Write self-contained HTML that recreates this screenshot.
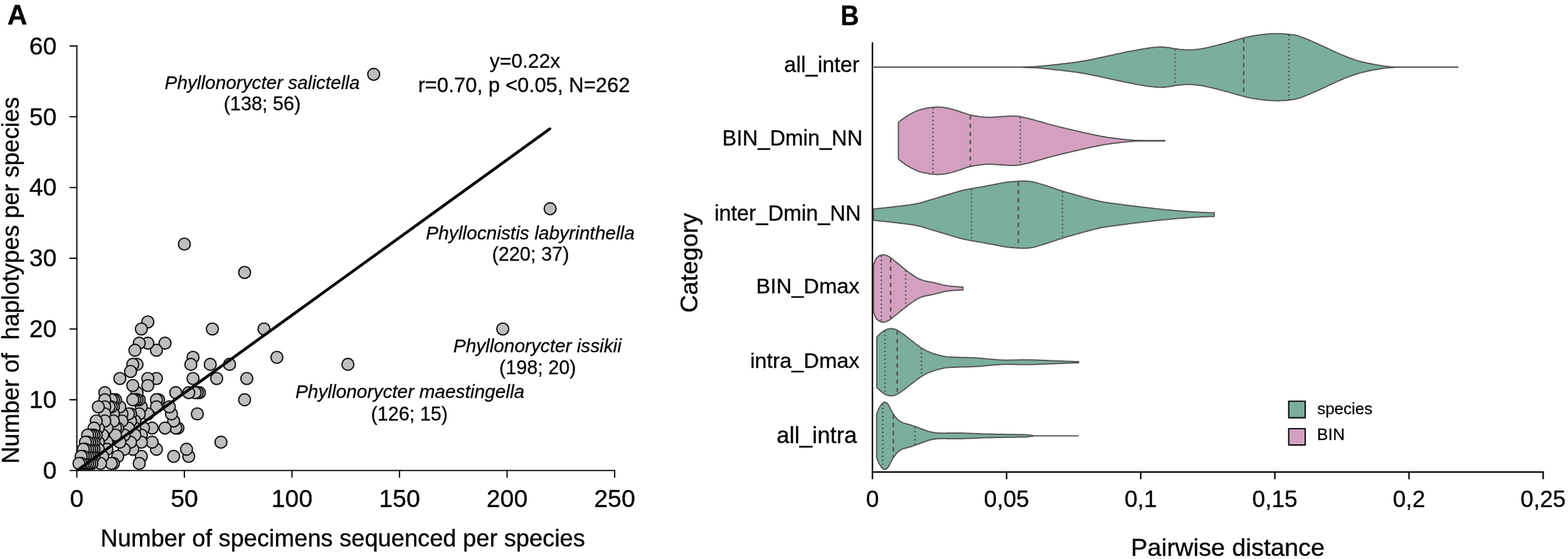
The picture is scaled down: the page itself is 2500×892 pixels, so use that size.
<!DOCTYPE html>
<html lang="en"><head><meta charset="utf-8"><title>Figure</title>
<style>
html,body{margin:0;padding:0;background:#fff}
body{width:2500px;height:892px;overflow:hidden}
svg{display:block}
text{font-family:"Liberation Sans",Arial,Helvetica,sans-serif;fill:#060606;stroke:#060606;stroke-width:0.011em}
</style></head><body>
<svg width="2500" height="892" viewBox="0 0 2500 892">
<rect width="2500" height="892" fill="#ffffff"/>

<g id="panelA">
<text transform="translate(12.90 38.80) scale(0.4388 0.4406)" x="-2.50" y="0" font-size="100" font-weight="bold">A</text>
<g stroke="#111" stroke-width="2.1" fill="none" stroke-linecap="round" stroke-linejoin="round">
<path d="M122.5 73.4 V750.8 H980.0"/>
<path d="M111.7 750.8 H122.5"/>
<path d="M111.7 637.9 H122.5"/>
<path d="M111.7 525.0 H122.5"/>
<path d="M111.7 412.1 H122.5"/>
<path d="M111.7 299.2 H122.5"/>
<path d="M111.7 186.3 H122.5"/>
<path d="M111.7 73.4 H122.5"/>
<path d="M122.5 750.8 V761.5"/>
<path d="M294.0 750.8 V761.5"/>
<path d="M465.5 750.8 V761.5"/>
<path d="M637.0 750.8 V761.5"/>
<path d="M808.5 750.8 V761.5"/>
<path d="M980.0 750.8 V761.5"/>
</g>
<text x="68.42" y="764.00" font-size="39.20" xml:space="preserve">0</text>
<text x="46.66" y="651.10" font-size="39.20" xml:space="preserve">10</text>
<text x="46.66" y="538.20" font-size="39.20" xml:space="preserve">20</text>
<text x="46.66" y="425.30" font-size="39.20" xml:space="preserve">30</text>
<text x="46.66" y="312.40" font-size="39.20" xml:space="preserve">40</text>
<text x="46.66" y="199.50" font-size="39.20" xml:space="preserve">50</text>
<text x="46.66" y="86.60" font-size="39.20" xml:space="preserve">60</text>
<text x="122.50" y="808.6" font-size="39.2" text-anchor="middle">0</text>
<text x="294.00" y="808.6" font-size="39.2" text-anchor="middle">50</text>
<text x="465.50" y="808.6" font-size="39.2" text-anchor="middle">100</text>
<text x="637.00" y="808.6" font-size="39.2" text-anchor="middle">150</text>
<text x="808.50" y="808.6" font-size="39.2" text-anchor="middle">200</text>
<text x="980.00" y="808.6" font-size="39.2" text-anchor="middle">250</text>
<text x="160.25" y="872.30" font-size="38.08" xml:space="preserve">Number of specimens sequenced per species</text>
<text transform="translate(29.60 740.03) rotate(-90)" font-size="37.89" xml:space="preserve">Number of  haplotypes per species</text>
<g fill="#bebebe" stroke="#111" stroke-width="2.1">
<circle cx="877.1" cy="333.1" r="9.5"/>
<circle cx="801.6" cy="525.0" r="9.5"/>
<circle cx="595.8" cy="118.6" r="9.5"/>
<circle cx="554.7" cy="581.4" r="9.5"/>
<circle cx="441.5" cy="570.2" r="9.5"/>
<circle cx="420.9" cy="525.0" r="9.5"/>
<circle cx="393.5" cy="604.0" r="9.5"/>
<circle cx="390.0" cy="434.7" r="9.5"/>
<circle cx="390.0" cy="637.9" r="9.5"/>
<circle cx="366.0" cy="581.4" r="9.5"/>
<circle cx="352.3" cy="705.6" r="9.5"/>
<circle cx="345.5" cy="604.0" r="9.5"/>
<circle cx="338.6" cy="525.0" r="9.5"/>
<circle cx="335.2" cy="581.4" r="9.5"/>
<circle cx="318.0" cy="626.6" r="9.5"/>
<circle cx="314.6" cy="626.6" r="9.5"/>
<circle cx="314.6" cy="660.5" r="9.5"/>
<circle cx="311.1" cy="626.6" r="9.5"/>
<circle cx="307.7" cy="570.2" r="9.5"/>
<circle cx="307.7" cy="604.0" r="9.5"/>
<circle cx="304.3" cy="581.4" r="9.5"/>
<circle cx="300.9" cy="626.6" r="9.5"/>
<circle cx="300.9" cy="728.2" r="9.5"/>
<circle cx="297.4" cy="716.9" r="9.5"/>
<circle cx="294.0" cy="389.5" r="9.5"/>
<circle cx="283.7" cy="683.1" r="9.5"/>
<circle cx="280.3" cy="626.6" r="9.5"/>
<circle cx="280.3" cy="683.1" r="9.5"/>
<circle cx="276.9" cy="671.8" r="9.5"/>
<circle cx="276.9" cy="728.2" r="9.5"/>
<circle cx="273.4" cy="660.5" r="9.5"/>
<circle cx="270.0" cy="649.2" r="9.5"/>
<circle cx="263.1" cy="547.6" r="9.5"/>
<circle cx="263.1" cy="683.1" r="9.5"/>
<circle cx="252.8" cy="637.9" r="9.5"/>
<circle cx="249.4" cy="558.9" r="9.5"/>
<circle cx="249.4" cy="604.0" r="9.5"/>
<circle cx="249.4" cy="637.9" r="9.5"/>
<circle cx="249.4" cy="649.2" r="9.5"/>
<circle cx="249.4" cy="716.9" r="9.5"/>
<circle cx="242.6" cy="683.1" r="9.5"/>
<circle cx="242.6" cy="705.6" r="9.5"/>
<circle cx="235.7" cy="513.7" r="9.5"/>
<circle cx="235.7" cy="547.6" r="9.5"/>
<circle cx="235.7" cy="604.0" r="9.5"/>
<circle cx="235.7" cy="615.3" r="9.5"/>
<circle cx="235.7" cy="660.5" r="9.5"/>
<circle cx="228.8" cy="683.1" r="9.5"/>
<circle cx="225.4" cy="525.0" r="9.5"/>
<circle cx="225.4" cy="649.2" r="9.5"/>
<circle cx="225.4" cy="694.3" r="9.5"/>
<circle cx="225.4" cy="705.6" r="9.5"/>
<circle cx="225.4" cy="728.2" r="9.5"/>
<circle cx="222.0" cy="547.6" r="9.5"/>
<circle cx="222.0" cy="637.9" r="9.5"/>
<circle cx="222.0" cy="660.5" r="9.5"/>
<circle cx="222.0" cy="739.5" r="9.5"/>
<circle cx="218.5" cy="581.4" r="9.5"/>
<circle cx="218.5" cy="626.6" r="9.5"/>
<circle cx="218.5" cy="637.9" r="9.5"/>
<circle cx="215.1" cy="558.9" r="9.5"/>
<circle cx="215.1" cy="637.9" r="9.5"/>
<circle cx="215.1" cy="671.8" r="9.5"/>
<circle cx="215.1" cy="683.1" r="9.5"/>
<circle cx="215.1" cy="694.3" r="9.5"/>
<circle cx="211.7" cy="581.4" r="9.5"/>
<circle cx="211.7" cy="615.3" r="9.5"/>
<circle cx="211.7" cy="637.9" r="9.5"/>
<circle cx="211.7" cy="716.9" r="9.5"/>
<circle cx="208.2" cy="592.7" r="9.5"/>
<circle cx="208.2" cy="660.5" r="9.5"/>
<circle cx="208.2" cy="671.8" r="9.5"/>
<circle cx="208.2" cy="705.6" r="9.5"/>
<circle cx="204.8" cy="660.5" r="9.5"/>
<circle cx="204.8" cy="683.1" r="9.5"/>
<circle cx="198.0" cy="694.3" r="9.5"/>
<circle cx="198.0" cy="716.9" r="9.5"/>
<circle cx="194.5" cy="660.5" r="9.5"/>
<circle cx="194.5" cy="671.8" r="9.5"/>
<circle cx="191.1" cy="604.0" r="9.5"/>
<circle cx="191.1" cy="649.2" r="9.5"/>
<circle cx="191.1" cy="705.6" r="9.5"/>
<circle cx="187.7" cy="683.1" r="9.5"/>
<circle cx="187.7" cy="728.2" r="9.5"/>
<circle cx="184.2" cy="637.9" r="9.5"/>
<circle cx="184.2" cy="683.1" r="9.5"/>
<circle cx="184.2" cy="694.3" r="9.5"/>
<circle cx="180.8" cy="637.9" r="9.5"/>
<circle cx="180.8" cy="649.2" r="9.5"/>
<circle cx="180.8" cy="660.5" r="9.5"/>
<circle cx="180.8" cy="671.8" r="9.5"/>
<circle cx="180.8" cy="739.5" r="9.5"/>
<circle cx="177.4" cy="637.9" r="9.5"/>
<circle cx="177.4" cy="649.2" r="9.5"/>
<circle cx="177.4" cy="739.5" r="9.5"/>
<circle cx="173.9" cy="649.2" r="9.5"/>
<circle cx="170.5" cy="683.1" r="9.5"/>
<circle cx="170.5" cy="705.6" r="9.5"/>
<circle cx="170.5" cy="716.9" r="9.5"/>
<circle cx="167.1" cy="626.6" r="9.5"/>
<circle cx="167.1" cy="637.9" r="9.5"/>
<circle cx="167.1" cy="649.2" r="9.5"/>
<circle cx="167.1" cy="660.5" r="9.5"/>
<circle cx="167.1" cy="671.8" r="9.5"/>
<circle cx="163.7" cy="694.3" r="9.5"/>
<circle cx="163.7" cy="728.2" r="9.5"/>
<circle cx="160.2" cy="739.5" r="9.5"/>
<circle cx="156.8" cy="649.2" r="9.5"/>
<circle cx="156.8" cy="683.1" r="9.5"/>
<circle cx="156.8" cy="705.6" r="9.5"/>
<circle cx="156.8" cy="716.9" r="9.5"/>
<circle cx="153.4" cy="671.8" r="9.5"/>
<circle cx="153.4" cy="694.3" r="9.5"/>
<circle cx="149.9" cy="683.1" r="9.5"/>
<circle cx="149.9" cy="694.3" r="9.5"/>
<circle cx="149.9" cy="705.6" r="9.5"/>
<circle cx="149.9" cy="716.9" r="9.5"/>
<circle cx="149.9" cy="728.2" r="9.5"/>
<circle cx="146.5" cy="694.3" r="9.5"/>
<circle cx="146.5" cy="705.6" r="9.5"/>
<circle cx="146.5" cy="716.9" r="9.5"/>
<circle cx="146.5" cy="728.2" r="9.5"/>
<circle cx="146.5" cy="739.5" r="9.5"/>
<circle cx="143.1" cy="694.3" r="9.5"/>
<circle cx="143.1" cy="705.6" r="9.5"/>
<circle cx="143.1" cy="716.9" r="9.5"/>
<circle cx="143.1" cy="728.2" r="9.5"/>
<circle cx="143.1" cy="739.5" r="9.5"/>
<circle cx="139.7" cy="694.3" r="9.5"/>
<circle cx="139.7" cy="705.6" r="9.5"/>
<circle cx="139.7" cy="716.9" r="9.5"/>
<circle cx="139.7" cy="728.2" r="9.5"/>
<circle cx="139.7" cy="739.5" r="9.5"/>
<circle cx="136.2" cy="705.6" r="9.5"/>
<circle cx="136.2" cy="716.9" r="9.5"/>
<circle cx="136.2" cy="728.2" r="9.5"/>
<circle cx="136.2" cy="739.5" r="9.5"/>
<circle cx="132.8" cy="716.9" r="9.5"/>
<circle cx="132.8" cy="728.2" r="9.5"/>
<circle cx="132.8" cy="739.5" r="9.5"/>
<circle cx="129.4" cy="728.2" r="9.5"/>
<circle cx="129.4" cy="739.5" r="9.5"/>
<circle cx="125.9" cy="739.5" r="9.5"/>
</g>
<path d="M124.5 749.6 L876.6 205.7" stroke="#0a0a0a" stroke-width="4.6" stroke-linecap="round"/>
<text x="262.61" y="141.50" font-size="29.75" font-style="italic" xml:space="preserve">Phyllonorycter salictella</text>
<text x="356.66" y="176.00" font-size="30.67" xml:space="preserve">(138; 56)</text>
<text x="780.74" y="108.40" font-size="31.89" xml:space="preserve">y=0.22x</text>
<text x="666.67" y="146.50" font-size="32.76" xml:space="preserve">r=0.70, p &lt;0.05, N=262</text>
<text x="679.10" y="381.90" font-size="29.95" font-style="italic" xml:space="preserve">Phyllocnistis labyrinthella</text>
<text x="784.46" y="416.40" font-size="30.72" xml:space="preserve">(220; 37)</text>
<text x="722.81" y="561.70" font-size="29.78" font-style="italic" xml:space="preserve">Phyllonorycter issikii</text>
<text x="795.96" y="597.00" font-size="30.59" xml:space="preserve">(198; 20)</text>
<text x="470.90" y="635.30" font-size="29.88" font-style="italic" xml:space="preserve">Phyllonorycter maestingella</text>
<text x="591.57" y="670.70" font-size="30.57" xml:space="preserve">(126; 15)</text>
</g>
<g id="panelB">
<text transform="translate(1342.80 39.70) scale(0.4049 0.4406)" x="-6.50" y="0" font-size="100" font-weight="bold">B</text>
<path d="M1393.0 107.2 H2325.3" stroke="#565656" stroke-width="2.3" fill="none"/>
<path d="M1632.0 106.8 L1634.5 106.8 L1637.0 106.7 L1639.5 106.7 L1642.1 106.6 L1644.6 106.5 L1647.1 106.4 L1649.6 106.3 L1652.1 106.2 L1654.6 106.0 L1657.2 105.8 L1659.7 105.6 L1662.2 105.4 L1664.7 105.1 L1667.2 104.9 L1669.7 104.6 L1672.3 104.4 L1674.8 104.1 L1677.3 103.8 L1679.8 103.5 L1682.3 103.2 L1684.8 103.0 L1687.4 102.7 L1689.9 102.4 L1692.4 102.1 L1694.9 101.8 L1697.4 101.5 L1699.9 101.2 L1702.5 100.9 L1705.0 100.6 L1707.5 100.3 L1710.0 99.9 L1712.5 99.6 L1715.0 99.3 L1717.6 98.9 L1720.1 98.5 L1722.6 98.1 L1725.1 97.7 L1727.6 97.3 L1730.1 96.8 L1732.7 96.4 L1735.2 95.9 L1737.7 95.4 L1740.2 94.9 L1742.7 94.4 L1745.2 93.9 L1747.8 93.4 L1750.3 92.8 L1752.8 92.3 L1755.3 91.8 L1757.8 91.2 L1760.3 90.7 L1762.9 90.1 L1765.4 89.6 L1767.9 89.0 L1770.4 88.5 L1772.9 87.9 L1775.4 87.4 L1778.0 86.8 L1780.5 86.2 L1783.0 85.7 L1785.5 85.2 L1788.0 84.7 L1790.5 84.1 L1793.1 83.6 L1795.6 83.1 L1798.1 82.6 L1800.6 82.1 L1803.1 81.6 L1805.6 81.2 L1808.2 80.7 L1810.7 80.2 L1813.2 79.7 L1815.7 79.2 L1818.2 78.8 L1820.7 78.4 L1823.3 77.9 L1825.8 77.5 L1828.3 77.2 L1830.8 76.8 L1833.3 76.4 L1835.8 76.1 L1838.4 75.8 L1840.9 75.6 L1843.4 75.4 L1845.9 75.2 L1848.4 75.1 L1850.9 75.1 L1853.5 75.1 L1856.0 75.3 L1858.5 75.5 L1861.0 75.8 L1863.5 76.1 L1866.0 76.5 L1868.6 77.0 L1871.1 77.4 L1873.6 77.8 L1876.1 78.1 L1878.6 78.5 L1881.1 78.8 L1883.7 79.0 L1886.2 79.2 L1888.7 79.4 L1891.2 79.6 L1893.7 79.6 L1896.2 79.6 L1898.8 79.6 L1901.3 79.4 L1903.8 79.2 L1906.3 79.0 L1908.8 78.7 L1911.3 78.4 L1913.9 78.1 L1916.4 77.7 L1918.9 77.3 L1921.4 76.7 L1923.9 76.2 L1926.4 75.6 L1929.0 75.0 L1931.5 74.4 L1934.0 73.8 L1936.5 73.2 L1939.0 72.6 L1941.5 71.9 L1944.1 71.3 L1946.6 70.7 L1949.1 70.0 L1951.6 69.3 L1954.1 68.7 L1956.6 68.0 L1959.2 67.3 L1961.7 66.5 L1964.2 65.8 L1966.7 65.1 L1969.2 64.3 L1971.7 63.6 L1974.3 62.9 L1976.8 62.2 L1979.3 61.5 L1981.8 60.8 L1984.3 60.1 L1986.8 59.5 L1989.4 59.0 L1991.9 58.4 L1994.4 57.9 L1996.9 57.5 L1999.4 57.1 L2001.9 56.6 L2004.5 56.3 L2007.0 55.9 L2009.5 55.6 L2012.0 55.2 L2014.5 54.9 L2017.0 54.7 L2019.6 54.5 L2022.1 54.3 L2024.6 54.1 L2027.1 54.0 L2029.6 53.9 L2032.1 53.8 L2034.7 53.7 L2037.2 53.7 L2039.7 53.7 L2042.2 53.8 L2044.7 53.9 L2047.2 54.0 L2049.8 54.2 L2052.3 54.4 L2054.8 54.7 L2057.3 55.0 L2059.8 55.3 L2062.3 55.6 L2064.9 56.1 L2067.4 56.6 L2069.9 57.3 L2072.4 58.1 L2074.9 59.1 L2077.4 60.0 L2080.0 61.0 L2082.5 62.0 L2085.0 63.0 L2087.5 64.0 L2090.0 65.1 L2092.5 66.2 L2095.1 67.3 L2097.6 68.4 L2100.1 69.5 L2102.6 70.6 L2105.1 71.8 L2107.6 73.0 L2110.2 74.1 L2112.7 75.3 L2115.2 76.5 L2117.7 77.7 L2120.2 78.9 L2122.7 80.1 L2125.3 81.3 L2127.8 82.4 L2130.3 83.6 L2132.8 84.7 L2135.3 85.8 L2137.8 86.9 L2140.4 87.9 L2142.9 89.0 L2145.4 90.0 L2147.9 91.0 L2150.4 92.0 L2152.9 92.9 L2155.5 93.8 L2158.0 94.7 L2160.5 95.6 L2163.0 96.4 L2165.5 97.1 L2168.0 97.8 L2170.6 98.5 L2173.1 99.2 L2175.6 99.7 L2178.1 100.3 L2180.6 100.8 L2183.1 101.3 L2185.7 101.8 L2188.2 102.3 L2190.7 102.8 L2193.2 103.2 L2195.7 103.7 L2198.2 104.1 L2200.8 104.5 L2203.3 104.9 L2205.8 105.3 L2208.3 105.6 L2210.8 105.9 L2213.3 106.2 L2215.9 106.4 L2218.4 106.6 L2220.9 106.7 L2223.4 106.8 L2223.4 107.6 L2220.9 107.7 L2218.4 107.8 L2215.9 108.0 L2213.3 108.2 L2210.8 108.5 L2208.3 108.8 L2205.8 109.1 L2203.3 109.5 L2200.8 109.9 L2198.2 110.3 L2195.7 110.7 L2193.2 111.2 L2190.7 111.6 L2188.2 112.1 L2185.7 112.6 L2183.1 113.1 L2180.6 113.6 L2178.1 114.1 L2175.6 114.7 L2173.1 115.2 L2170.6 115.9 L2168.0 116.6 L2165.5 117.3 L2163.0 118.0 L2160.5 118.8 L2158.0 119.7 L2155.5 120.6 L2152.9 121.5 L2150.4 122.4 L2147.9 123.4 L2145.4 124.4 L2142.9 125.4 L2140.4 126.5 L2137.8 127.5 L2135.3 128.6 L2132.8 129.7 L2130.3 130.8 L2127.8 132.0 L2125.3 133.1 L2122.7 134.3 L2120.2 135.5 L2117.7 136.7 L2115.2 137.9 L2112.7 139.1 L2110.2 140.3 L2107.6 141.4 L2105.1 142.6 L2102.6 143.8 L2100.1 144.9 L2097.6 146.0 L2095.1 147.1 L2092.5 148.2 L2090.0 149.3 L2087.5 150.4 L2085.0 151.4 L2082.5 152.4 L2080.0 153.4 L2077.4 154.4 L2074.9 155.3 L2072.4 156.3 L2069.9 157.1 L2067.4 157.8 L2064.9 158.3 L2062.3 158.8 L2059.8 159.1 L2057.3 159.4 L2054.8 159.7 L2052.3 160.0 L2049.8 160.2 L2047.2 160.4 L2044.7 160.5 L2042.2 160.6 L2039.7 160.7 L2037.2 160.7 L2034.7 160.7 L2032.1 160.6 L2029.6 160.5 L2027.1 160.4 L2024.6 160.3 L2022.1 160.1 L2019.6 159.9 L2017.0 159.7 L2014.5 159.5 L2012.0 159.2 L2009.5 158.8 L2007.0 158.5 L2004.5 158.1 L2001.9 157.8 L1999.4 157.3 L1996.9 156.9 L1994.4 156.5 L1991.9 156.0 L1989.4 155.4 L1986.8 154.9 L1984.3 154.3 L1981.8 153.6 L1979.3 152.9 L1976.8 152.2 L1974.3 151.5 L1971.7 150.8 L1969.2 150.1 L1966.7 149.3 L1964.2 148.6 L1961.7 147.9 L1959.2 147.1 L1956.6 146.4 L1954.1 145.7 L1951.6 145.1 L1949.1 144.4 L1946.6 143.7 L1944.1 143.1 L1941.5 142.5 L1939.0 141.8 L1936.5 141.2 L1934.0 140.6 L1931.5 140.0 L1929.0 139.4 L1926.4 138.8 L1923.9 138.2 L1921.4 137.7 L1918.9 137.1 L1916.4 136.7 L1913.9 136.3 L1911.3 136.0 L1908.8 135.7 L1906.3 135.4 L1903.8 135.2 L1901.3 135.0 L1898.8 134.8 L1896.2 134.8 L1893.7 134.8 L1891.2 134.8 L1888.7 135.0 L1886.2 135.2 L1883.7 135.4 L1881.1 135.6 L1878.6 135.9 L1876.1 136.3 L1873.6 136.6 L1871.1 137.0 L1868.6 137.4 L1866.0 137.9 L1863.5 138.3 L1861.0 138.6 L1858.5 138.9 L1856.0 139.1 L1853.5 139.3 L1850.9 139.3 L1848.4 139.3 L1845.9 139.2 L1843.4 139.0 L1840.9 138.8 L1838.4 138.6 L1835.8 138.3 L1833.3 138.0 L1830.8 137.6 L1828.3 137.2 L1825.8 136.9 L1823.3 136.5 L1820.7 136.0 L1818.2 135.6 L1815.7 135.2 L1813.2 134.7 L1810.7 134.2 L1808.2 133.7 L1805.6 133.2 L1803.1 132.8 L1800.6 132.3 L1798.1 131.8 L1795.6 131.3 L1793.1 130.8 L1790.5 130.3 L1788.0 129.7 L1785.5 129.2 L1783.0 128.7 L1780.5 128.2 L1778.0 127.6 L1775.4 127.0 L1772.9 126.5 L1770.4 125.9 L1767.9 125.4 L1765.4 124.8 L1762.9 124.3 L1760.3 123.7 L1757.8 123.2 L1755.3 122.6 L1752.8 122.1 L1750.3 121.6 L1747.8 121.0 L1745.2 120.5 L1742.7 120.0 L1740.2 119.5 L1737.7 119.0 L1735.2 118.5 L1732.7 118.0 L1730.1 117.6 L1727.6 117.1 L1725.1 116.7 L1722.6 116.3 L1720.1 115.9 L1717.6 115.5 L1715.0 115.1 L1712.5 114.8 L1710.0 114.5 L1707.5 114.1 L1705.0 113.8 L1702.5 113.5 L1699.9 113.2 L1697.4 112.9 L1694.9 112.6 L1692.4 112.3 L1689.9 112.0 L1687.4 111.7 L1684.8 111.4 L1682.3 111.2 L1679.8 110.9 L1677.3 110.6 L1674.8 110.3 L1672.3 110.0 L1669.7 109.8 L1667.2 109.5 L1664.7 109.3 L1662.2 109.0 L1659.7 108.8 L1657.2 108.6 L1654.6 108.4 L1652.1 108.2 L1649.6 108.1 L1647.1 108.0 L1644.6 107.9 L1642.1 107.8 L1639.5 107.7 L1637.0 107.7 L1634.5 107.6 L1632.0 107.6 Z" fill="#7bae9f" stroke="#565656" stroke-width="2" stroke-linejoin="round"/>
<path d="M1873.5 78.8 V135.6" stroke="#4e4e4e" stroke-width="2.3" stroke-dasharray="2.2 4.15" fill="none"/>
<path d="M1983.0 61.5 V152.9" stroke="#4e4e4e" stroke-width="2.3" stroke-dasharray="6.7 6.3" fill="none"/>
<path d="M2055.0 55.7 V158.7" stroke="#4e4e4e" stroke-width="2.3" stroke-dasharray="2.2 4.15" fill="none"/>
<path d="M1820.0 224.6 H1858.0" stroke="#565656" stroke-width="2.8" fill="none"/>
<path d="M1432.4 195.4 L1434.9 193.3 L1437.4 191.3 L1440.0 189.4 L1442.5 187.6 L1445.0 185.9 L1447.5 184.3 L1450.0 182.8 L1452.5 181.4 L1455.1 180.1 L1457.6 178.8 L1460.1 177.7 L1462.6 176.6 L1465.1 175.7 L1467.6 174.8 L1470.2 174.2 L1472.7 173.6 L1475.2 173.1 L1477.7 172.6 L1480.2 172.2 L1482.7 171.8 L1485.3 171.5 L1487.8 171.2 L1490.3 171.0 L1492.8 170.8 L1495.3 170.8 L1497.8 170.9 L1500.4 171.0 L1502.9 171.2 L1505.4 171.6 L1507.9 172.0 L1510.4 172.5 L1512.9 173.0 L1515.5 173.6 L1518.0 174.3 L1520.5 174.9 L1523.0 175.7 L1525.5 176.5 L1528.0 177.3 L1530.6 178.2 L1533.1 179.0 L1535.6 179.9 L1538.1 180.8 L1540.6 181.6 L1543.1 182.4 L1545.7 183.1 L1548.2 183.7 L1550.7 184.2 L1553.2 184.7 L1555.7 185.1 L1558.2 185.5 L1560.8 185.9 L1563.3 186.2 L1565.8 186.4 L1568.3 186.7 L1570.8 186.9 L1573.3 187.1 L1575.9 187.2 L1578.4 187.2 L1580.9 187.2 L1583.4 187.0 L1585.9 186.8 L1588.4 186.6 L1591.0 186.4 L1593.5 186.2 L1596.0 186.1 L1598.5 185.9 L1601.0 185.7 L1603.5 185.6 L1606.1 185.5 L1608.6 185.4 L1611.1 185.3 L1613.6 185.2 L1616.1 185.2 L1618.6 185.2 L1621.2 185.4 L1623.7 185.6 L1626.2 186.0 L1628.7 186.6 L1631.2 187.1 L1633.8 187.7 L1636.3 188.3 L1638.8 188.9 L1641.3 189.5 L1643.8 190.2 L1646.3 190.8 L1648.9 191.5 L1651.4 192.2 L1653.9 192.9 L1656.4 193.6 L1658.9 194.3 L1661.4 195.0 L1664.0 195.8 L1666.5 196.5 L1669.0 197.2 L1671.5 197.9 L1674.0 198.6 L1676.5 199.3 L1679.1 200.0 L1681.6 200.6 L1684.1 201.2 L1686.6 201.9 L1689.1 202.5 L1691.6 203.1 L1694.2 203.7 L1696.7 204.3 L1699.2 204.9 L1701.7 205.5 L1704.2 206.1 L1706.7 206.7 L1709.3 207.3 L1711.8 207.9 L1714.3 208.5 L1716.8 209.1 L1719.3 209.6 L1721.8 210.2 L1724.4 210.8 L1726.9 211.4 L1729.4 211.9 L1731.9 212.5 L1734.4 213.1 L1736.9 213.6 L1739.5 214.1 L1742.0 214.7 L1744.5 215.2 L1747.0 215.7 L1749.5 216.2 L1752.0 216.7 L1754.6 217.2 L1757.1 217.7 L1759.6 218.1 L1762.1 218.6 L1764.6 219.0 L1767.1 219.4 L1769.7 219.7 L1772.2 220.1 L1774.7 220.4 L1777.2 220.7 L1779.7 221.0 L1782.2 221.3 L1784.8 221.6 L1787.3 221.9 L1789.8 222.2 L1792.3 222.4 L1794.8 222.7 L1797.3 223.0 L1799.9 223.2 L1802.4 223.4 L1804.9 223.6 L1807.4 223.8 L1809.9 223.9 L1812.4 224.0 L1815.0 224.1 L1817.5 224.2 L1820.0 224.3 L1820.0 224.9 L1817.5 225.0 L1815.0 225.1 L1812.4 225.2 L1809.9 225.3 L1807.4 225.4 L1804.9 225.6 L1802.4 225.8 L1799.9 226.0 L1797.3 226.2 L1794.8 226.5 L1792.3 226.8 L1789.8 227.0 L1787.3 227.3 L1784.8 227.6 L1782.2 227.9 L1779.7 228.2 L1777.2 228.5 L1774.7 228.8 L1772.2 229.1 L1769.7 229.5 L1767.1 229.8 L1764.6 230.2 L1762.1 230.6 L1759.6 231.1 L1757.1 231.5 L1754.6 232.0 L1752.0 232.5 L1749.5 233.0 L1747.0 233.5 L1744.5 234.0 L1742.0 234.5 L1739.5 235.1 L1736.9 235.6 L1734.4 236.1 L1731.9 236.7 L1729.4 237.3 L1726.9 237.8 L1724.4 238.4 L1721.8 239.0 L1719.3 239.6 L1716.8 240.1 L1714.3 240.7 L1711.8 241.3 L1709.3 241.9 L1706.7 242.5 L1704.2 243.1 L1701.7 243.7 L1699.2 244.3 L1696.7 244.9 L1694.2 245.5 L1691.6 246.1 L1689.1 246.7 L1686.6 247.3 L1684.1 248.0 L1681.6 248.6 L1679.1 249.2 L1676.5 249.9 L1674.0 250.6 L1671.5 251.3 L1669.0 252.0 L1666.5 252.7 L1664.0 253.4 L1661.4 254.2 L1658.9 254.9 L1656.4 255.6 L1653.9 256.3 L1651.4 257.0 L1648.9 257.7 L1646.3 258.4 L1643.8 259.0 L1641.3 259.7 L1638.8 260.3 L1636.3 260.9 L1633.8 261.5 L1631.2 262.1 L1628.7 262.6 L1626.2 263.2 L1623.7 263.6 L1621.2 263.8 L1618.6 264.0 L1616.1 264.0 L1613.6 264.0 L1611.1 263.9 L1608.6 263.8 L1606.1 263.7 L1603.5 263.6 L1601.0 263.5 L1598.5 263.3 L1596.0 263.1 L1593.5 263.0 L1591.0 262.8 L1588.4 262.6 L1585.9 262.4 L1583.4 262.2 L1580.9 262.0 L1578.4 262.0 L1575.9 262.0 L1573.3 262.1 L1570.8 262.3 L1568.3 262.5 L1565.8 262.8 L1563.3 263.0 L1560.8 263.3 L1558.2 263.7 L1555.7 264.1 L1553.2 264.5 L1550.7 265.0 L1548.2 265.5 L1545.7 266.1 L1543.1 266.8 L1540.6 267.6 L1538.1 268.4 L1535.6 269.3 L1533.1 270.2 L1530.6 271.0 L1528.0 271.9 L1525.5 272.7 L1523.0 273.5 L1520.5 274.3 L1518.0 274.9 L1515.5 275.6 L1512.9 276.2 L1510.4 276.7 L1507.9 277.2 L1505.4 277.6 L1502.9 278.0 L1500.4 278.2 L1497.8 278.3 L1495.3 278.4 L1492.8 278.4 L1490.3 278.2 L1487.8 278.0 L1485.3 277.7 L1482.7 277.4 L1480.2 277.0 L1477.7 276.6 L1475.2 276.1 L1472.7 275.6 L1470.2 275.0 L1467.6 274.4 L1465.1 273.5 L1462.6 272.6 L1460.1 271.5 L1457.6 270.4 L1455.1 269.1 L1452.5 267.8 L1450.0 266.4 L1447.5 264.9 L1445.0 263.3 L1442.5 261.6 L1440.0 259.8 L1437.4 257.9 L1434.9 255.9 L1432.4 253.8 Z" fill="#d4a0c0" stroke="#565656" stroke-width="2" stroke-linejoin="round"/>
<path d="M1487.6 172.2 V277.0" stroke="#4e4e4e" stroke-width="2.3" stroke-dasharray="2.2 4.15" fill="none"/>
<path d="M1547.0 184.4 V264.8" stroke="#4e4e4e" stroke-width="2.3" stroke-dasharray="6.7 6.3" fill="none"/>
<path d="M1626.8 187.2 V262.0" stroke="#4e4e4e" stroke-width="2.3" stroke-dasharray="2.2 4.15" fill="none"/>
<path d="M1392.5 333.6 L1395.0 333.3 L1397.5 333.1 L1400.0 332.8 L1402.6 332.5 L1405.1 332.3 L1407.6 332.0 L1410.1 331.7 L1412.6 331.4 L1415.1 331.1 L1417.7 330.9 L1420.2 330.6 L1422.7 330.3 L1425.2 330.0 L1427.7 329.7 L1430.2 329.4 L1432.8 329.1 L1435.3 328.8 L1437.8 328.5 L1440.3 328.2 L1442.8 327.9 L1445.3 327.6 L1447.9 327.3 L1450.4 327.0 L1452.9 326.6 L1455.4 326.2 L1457.9 325.8 L1460.4 325.3 L1463.0 324.8 L1465.5 324.2 L1468.0 323.6 L1470.5 322.8 L1473.0 322.1 L1475.5 321.3 L1478.1 320.6 L1480.6 319.8 L1483.1 319.1 L1485.6 318.3 L1488.1 317.6 L1490.6 316.8 L1493.1 316.1 L1495.7 315.3 L1498.2 314.5 L1500.7 313.8 L1503.2 313.0 L1505.7 312.3 L1508.2 311.5 L1510.8 310.8 L1513.3 310.0 L1515.8 309.3 L1518.3 308.5 L1520.8 307.8 L1523.3 307.0 L1525.9 306.2 L1528.4 305.5 L1530.9 304.7 L1533.4 304.1 L1535.9 303.5 L1538.4 302.9 L1541.0 302.4 L1543.5 302.0 L1546.0 301.5 L1548.5 301.1 L1551.0 300.6 L1553.5 300.2 L1556.1 299.7 L1558.6 299.3 L1561.1 298.8 L1563.6 298.4 L1566.1 297.9 L1568.6 297.5 L1571.2 297.0 L1573.7 296.6 L1576.2 296.1 L1578.7 295.6 L1581.2 295.2 L1583.7 294.7 L1586.2 294.2 L1588.8 293.7 L1591.3 293.2 L1593.8 292.8 L1596.3 292.3 L1598.8 291.8 L1601.3 291.4 L1603.9 291.0 L1606.4 290.6 L1608.9 290.4 L1611.4 290.1 L1613.9 289.9 L1616.4 289.7 L1619.0 289.5 L1621.5 289.3 L1624.0 289.2 L1626.5 289.0 L1629.0 289.0 L1631.5 289.0 L1634.1 289.0 L1636.6 289.1 L1639.1 289.3 L1641.6 289.5 L1644.1 289.8 L1646.6 290.2 L1649.2 290.8 L1651.7 291.4 L1654.2 292.1 L1656.7 292.9 L1659.2 293.6 L1661.7 294.4 L1664.2 295.2 L1666.8 296.0 L1669.3 296.8 L1671.8 297.6 L1674.3 298.4 L1676.8 299.3 L1679.3 300.1 L1681.9 301.0 L1684.4 301.9 L1686.9 302.7 L1689.4 303.5 L1691.9 304.3 L1694.4 305.1 L1697.0 305.9 L1699.5 306.7 L1702.0 307.4 L1704.5 308.1 L1707.0 308.8 L1709.5 309.5 L1712.1 310.2 L1714.6 310.9 L1717.1 311.6 L1719.6 312.3 L1722.1 313.0 L1724.6 313.7 L1727.2 314.4 L1729.7 315.1 L1732.2 315.8 L1734.7 316.5 L1737.2 317.1 L1739.7 317.8 L1742.3 318.5 L1744.8 319.1 L1747.3 319.7 L1749.8 320.3 L1752.3 320.9 L1754.8 321.4 L1757.3 321.9 L1759.9 322.4 L1762.4 322.8 L1764.9 323.2 L1767.4 323.6 L1769.9 324.0 L1772.4 324.3 L1775.0 324.6 L1777.5 325.0 L1780.0 325.3 L1782.5 325.6 L1785.0 326.0 L1787.5 326.3 L1790.1 326.6 L1792.6 326.9 L1795.1 327.3 L1797.6 327.6 L1800.1 327.9 L1802.6 328.2 L1805.2 328.6 L1807.7 328.9 L1810.2 329.2 L1812.7 329.5 L1815.2 329.8 L1817.7 330.1 L1820.3 330.4 L1822.8 330.7 L1825.3 331.0 L1827.8 331.3 L1830.3 331.6 L1832.8 331.8 L1835.4 332.1 L1837.9 332.4 L1840.4 332.7 L1842.9 333.0 L1845.4 333.2 L1847.9 333.5 L1850.4 333.8 L1853.0 334.0 L1855.5 334.3 L1858.0 334.5 L1860.5 334.8 L1863.0 335.0 L1865.5 335.2 L1868.1 335.5 L1870.6 335.7 L1873.1 335.9 L1875.6 336.1 L1878.1 336.4 L1880.6 336.6 L1883.2 336.8 L1885.7 337.0 L1888.2 337.2 L1890.7 337.3 L1893.2 337.5 L1895.7 337.7 L1898.3 337.9 L1900.8 338.0 L1903.3 338.2 L1905.8 338.3 L1908.3 338.5 L1910.8 338.6 L1913.4 338.7 L1915.9 338.9 L1918.4 339.0 L1920.9 339.1 L1923.4 339.2 L1925.9 339.3 L1928.5 339.4 L1931.0 339.5 L1933.5 339.5 L1936.0 339.6 L1936.0 345.4 L1933.5 345.5 L1931.0 345.5 L1928.5 345.6 L1925.9 345.7 L1923.4 345.8 L1920.9 345.9 L1918.4 346.0 L1915.9 346.1 L1913.4 346.3 L1910.8 346.4 L1908.3 346.5 L1905.8 346.7 L1903.3 346.8 L1900.8 347.0 L1898.3 347.1 L1895.7 347.3 L1893.2 347.5 L1890.7 347.7 L1888.2 347.8 L1885.7 348.0 L1883.2 348.2 L1880.6 348.4 L1878.1 348.6 L1875.6 348.9 L1873.1 349.1 L1870.6 349.3 L1868.1 349.5 L1865.5 349.8 L1863.0 350.0 L1860.5 350.2 L1858.0 350.5 L1855.5 350.7 L1853.0 351.0 L1850.4 351.2 L1847.9 351.5 L1845.4 351.8 L1842.9 352.0 L1840.4 352.3 L1837.9 352.6 L1835.4 352.9 L1832.8 353.2 L1830.3 353.4 L1827.8 353.7 L1825.3 354.0 L1822.8 354.3 L1820.3 354.6 L1817.7 354.9 L1815.2 355.2 L1812.7 355.5 L1810.2 355.8 L1807.7 356.1 L1805.2 356.4 L1802.6 356.8 L1800.1 357.1 L1797.6 357.4 L1795.1 357.7 L1792.6 358.1 L1790.1 358.4 L1787.5 358.7 L1785.0 359.0 L1782.5 359.4 L1780.0 359.7 L1777.5 360.0 L1775.0 360.4 L1772.4 360.7 L1769.9 361.0 L1767.4 361.4 L1764.9 361.8 L1762.4 362.2 L1759.9 362.6 L1757.3 363.1 L1754.8 363.6 L1752.3 364.1 L1749.8 364.7 L1747.3 365.3 L1744.8 365.9 L1742.3 366.5 L1739.7 367.2 L1737.2 367.9 L1734.7 368.5 L1732.2 369.2 L1729.7 369.9 L1727.2 370.6 L1724.6 371.3 L1722.1 372.0 L1719.6 372.7 L1717.1 373.4 L1714.6 374.1 L1712.1 374.8 L1709.5 375.5 L1707.0 376.2 L1704.5 376.9 L1702.0 377.6 L1699.5 378.3 L1697.0 379.1 L1694.4 379.9 L1691.9 380.7 L1689.4 381.5 L1686.9 382.3 L1684.4 383.1 L1681.9 384.0 L1679.3 384.9 L1676.8 385.7 L1674.3 386.6 L1671.8 387.4 L1669.3 388.2 L1666.8 389.0 L1664.2 389.8 L1661.7 390.6 L1659.2 391.4 L1656.7 392.1 L1654.2 392.9 L1651.7 393.6 L1649.2 394.2 L1646.6 394.8 L1644.1 395.2 L1641.6 395.5 L1639.1 395.7 L1636.6 395.9 L1634.1 396.0 L1631.5 396.0 L1629.0 396.0 L1626.5 396.0 L1624.0 395.8 L1621.5 395.7 L1619.0 395.5 L1616.4 395.3 L1613.9 395.1 L1611.4 394.9 L1608.9 394.6 L1606.4 394.4 L1603.9 394.0 L1601.3 393.6 L1598.8 393.2 L1596.3 392.7 L1593.8 392.2 L1591.3 391.8 L1588.8 391.3 L1586.2 390.8 L1583.7 390.3 L1581.2 389.8 L1578.7 389.4 L1576.2 388.9 L1573.7 388.4 L1571.2 388.0 L1568.6 387.5 L1566.1 387.1 L1563.6 386.6 L1561.1 386.2 L1558.6 385.7 L1556.1 385.3 L1553.5 384.8 L1551.0 384.4 L1548.5 383.9 L1546.0 383.5 L1543.5 383.0 L1541.0 382.6 L1538.4 382.1 L1535.9 381.5 L1533.4 380.9 L1530.9 380.3 L1528.4 379.5 L1525.9 378.8 L1523.3 378.0 L1520.8 377.2 L1518.3 376.5 L1515.8 375.7 L1513.3 375.0 L1510.8 374.2 L1508.2 373.5 L1505.7 372.7 L1503.2 372.0 L1500.7 371.2 L1498.2 370.5 L1495.7 369.7 L1493.1 368.9 L1490.6 368.2 L1488.1 367.4 L1485.6 366.7 L1483.1 365.9 L1480.6 365.2 L1478.1 364.4 L1475.5 363.7 L1473.0 362.9 L1470.5 362.2 L1468.0 361.4 L1465.5 360.8 L1463.0 360.2 L1460.4 359.7 L1457.9 359.2 L1455.4 358.8 L1452.9 358.4 L1450.4 358.0 L1447.9 357.7 L1445.3 357.4 L1442.8 357.1 L1440.3 356.8 L1437.8 356.5 L1435.3 356.2 L1432.8 355.9 L1430.2 355.6 L1427.7 355.3 L1425.2 355.0 L1422.7 354.7 L1420.2 354.4 L1417.7 354.1 L1415.1 353.9 L1412.6 353.6 L1410.1 353.3 L1407.6 353.0 L1405.1 352.7 L1402.6 352.5 L1400.0 352.2 L1397.5 351.9 L1395.0 351.7 L1392.5 351.4 Z" fill="#7bae9f" stroke="#565656" stroke-width="2" stroke-linejoin="round"/>
<path d="M1549.0 302.0 V383.0" stroke="#4e4e4e" stroke-width="2.3" stroke-dasharray="2.2 4.15" fill="none"/>
<path d="M1623.6 290.2 V394.8" stroke="#4e4e4e" stroke-width="2.3" stroke-dasharray="6.7 6.3" fill="none"/>
<path d="M1694.0 306.0 V379.0" stroke="#4e4e4e" stroke-width="2.3" stroke-dasharray="2.2 4.15" fill="none"/>
<path d="M1392.5 423.8 L1395.1 416.1 L1397.6 411.7 L1400.2 409.4 L1402.7 407.8 L1405.3 406.9 L1407.8 406.5 L1410.4 406.7 L1412.9 407.4 L1415.5 408.5 L1418.0 409.9 L1420.6 411.7 L1423.1 413.8 L1425.7 415.8 L1428.2 417.8 L1430.8 419.9 L1433.3 421.9 L1435.9 424.0 L1438.4 426.1 L1441.0 428.1 L1443.5 430.2 L1446.1 432.2 L1448.6 434.2 L1451.2 436.1 L1453.7 437.9 L1456.3 439.6 L1458.8 441.3 L1461.4 442.9 L1464.0 444.3 L1466.5 445.5 L1469.1 446.5 L1471.6 447.4 L1474.2 448.1 L1476.7 448.7 L1479.3 449.2 L1481.8 449.7 L1484.4 450.1 L1486.9 450.6 L1489.5 451.2 L1492.0 451.8 L1494.6 452.5 L1497.1 453.1 L1499.7 453.8 L1502.2 454.4 L1504.8 455.0 L1507.3 455.5 L1509.9 456.0 L1512.4 456.3 L1515.0 456.6 L1517.5 456.9 L1520.1 457.1 L1522.6 457.3 L1525.2 457.5 L1527.7 457.6 L1530.3 457.8 L1532.8 457.9 L1535.4 457.9 L1535.4 462.7 L1532.8 462.7 L1530.3 462.8 L1527.7 463.0 L1525.2 463.1 L1522.6 463.3 L1520.1 463.5 L1517.5 463.7 L1515.0 464.0 L1512.4 464.3 L1509.9 464.6 L1507.3 465.1 L1504.8 465.6 L1502.2 466.2 L1499.7 466.8 L1497.1 467.5 L1494.6 468.1 L1492.0 468.8 L1489.5 469.4 L1486.9 470.0 L1484.4 470.5 L1481.8 470.9 L1479.3 471.4 L1476.7 471.9 L1474.2 472.5 L1471.6 473.2 L1469.1 474.1 L1466.5 475.1 L1464.0 476.3 L1461.4 477.7 L1458.8 479.3 L1456.3 481.0 L1453.7 482.7 L1451.2 484.5 L1448.6 486.4 L1446.1 488.4 L1443.5 490.4 L1441.0 492.5 L1438.4 494.5 L1435.9 496.6 L1433.3 498.7 L1430.8 500.7 L1428.2 502.8 L1425.7 504.8 L1423.1 506.8 L1420.6 508.9 L1418.0 510.7 L1415.5 512.1 L1412.9 513.2 L1410.4 513.9 L1407.8 514.1 L1405.3 513.7 L1402.7 512.8 L1400.2 511.2 L1397.6 508.9 L1395.1 504.5 L1392.5 496.8 Z" fill="#d4a0c0" stroke="#565656" stroke-width="2" stroke-linejoin="round"/>
<path d="M1405.1 408.0 V512.6" stroke="#4e4e4e" stroke-width="2.3" stroke-dasharray="2.2 4.15" fill="none"/>
<path d="M1420.0 412.3 V508.3" stroke="#4e4e4e" stroke-width="2.3" stroke-dasharray="6.7 6.3" fill="none"/>
<path d="M1444.0 431.6 V489.0" stroke="#4e4e4e" stroke-width="2.3" stroke-dasharray="2.2 4.15" fill="none"/>
<path d="M1398.0 537.9 L1400.5 535.2 L1403.1 532.8 L1405.6 530.6 L1408.1 528.7 L1410.7 527.1 L1413.2 525.9 L1415.7 525.0 L1418.3 524.5 L1420.8 524.4 L1423.3 524.6 L1425.9 525.0 L1428.4 525.9 L1430.9 527.2 L1433.5 528.7 L1436.0 530.3 L1438.5 532.0 L1441.1 533.8 L1443.6 535.7 L1446.1 537.7 L1448.7 539.8 L1451.2 541.8 L1453.7 543.9 L1456.3 545.9 L1458.8 547.8 L1461.3 549.7 L1463.9 551.6 L1466.4 553.3 L1468.9 555.0 L1471.5 556.6 L1474.0 558.1 L1476.5 559.4 L1479.1 560.6 L1481.6 561.6 L1484.2 562.7 L1486.7 563.6 L1489.2 564.5 L1491.8 565.3 L1494.3 566.0 L1496.8 566.7 L1499.4 567.3 L1501.9 567.9 L1504.4 568.4 L1507.0 568.9 L1509.5 569.2 L1512.0 569.5 L1514.6 569.7 L1517.1 569.8 L1519.6 569.9 L1522.2 570.0 L1524.7 570.1 L1527.2 570.2 L1529.8 570.3 L1532.3 570.4 L1534.8 570.4 L1537.4 570.5 L1539.9 570.6 L1542.4 570.6 L1545.0 570.7 L1547.5 570.7 L1550.0 570.8 L1552.6 570.9 L1555.1 571.0 L1557.6 571.2 L1560.2 571.4 L1562.7 571.6 L1565.2 571.8 L1567.8 572.0 L1570.3 572.3 L1572.8 572.5 L1575.4 572.7 L1577.9 573.0 L1580.4 573.2 L1583.0 573.4 L1585.5 573.6 L1588.0 573.9 L1590.6 574.1 L1593.1 574.3 L1595.6 574.4 L1598.2 574.5 L1600.7 574.6 L1603.2 574.7 L1605.8 574.7 L1608.3 574.7 L1610.8 574.6 L1613.4 574.6 L1615.9 574.5 L1618.4 574.4 L1621.0 574.4 L1623.5 574.3 L1626.0 574.2 L1628.6 574.2 L1631.1 574.2 L1633.6 574.2 L1636.2 574.2 L1638.7 574.2 L1641.3 574.2 L1643.8 574.2 L1646.3 574.3 L1648.9 574.4 L1651.4 574.5 L1653.9 574.6 L1656.5 574.7 L1659.0 574.8 L1661.5 574.9 L1664.1 575.0 L1666.6 575.1 L1669.1 575.2 L1671.7 575.3 L1674.2 575.4 L1676.7 575.5 L1679.3 575.6 L1681.8 575.7 L1684.3 575.8 L1686.9 575.9 L1689.4 576.0 L1691.9 576.1 L1694.5 576.2 L1697.0 576.3 L1699.5 576.4 L1702.1 576.5 L1704.6 576.6 L1707.1 576.7 L1709.7 576.8 L1712.2 576.9 L1714.7 576.9 L1717.3 577.0 L1719.8 577.0 L1719.8 579.0 L1717.3 579.0 L1714.7 579.1 L1712.2 579.1 L1709.7 579.2 L1707.1 579.3 L1704.6 579.4 L1702.1 579.5 L1699.5 579.6 L1697.0 579.7 L1694.5 579.8 L1691.9 579.9 L1689.4 580.0 L1686.9 580.1 L1684.3 580.2 L1681.8 580.3 L1679.3 580.4 L1676.7 580.5 L1674.2 580.6 L1671.7 580.7 L1669.1 580.8 L1666.6 580.9 L1664.1 581.0 L1661.5 581.1 L1659.0 581.2 L1656.5 581.3 L1653.9 581.4 L1651.4 581.5 L1648.9 581.6 L1646.3 581.7 L1643.8 581.8 L1641.3 581.8 L1638.7 581.8 L1636.2 581.8 L1633.6 581.8 L1631.1 581.8 L1628.6 581.8 L1626.0 581.8 L1623.5 581.7 L1621.0 581.6 L1618.4 581.6 L1615.9 581.5 L1613.4 581.4 L1610.8 581.4 L1608.3 581.3 L1605.8 581.3 L1603.2 581.3 L1600.7 581.4 L1598.2 581.5 L1595.6 581.6 L1593.1 581.7 L1590.6 581.9 L1588.0 582.1 L1585.5 582.4 L1583.0 582.6 L1580.4 582.8 L1577.9 583.0 L1575.4 583.3 L1572.8 583.5 L1570.3 583.7 L1567.8 584.0 L1565.2 584.2 L1562.7 584.4 L1560.2 584.6 L1557.6 584.8 L1555.1 585.0 L1552.6 585.1 L1550.0 585.2 L1547.5 585.3 L1545.0 585.3 L1542.4 585.4 L1539.9 585.4 L1537.4 585.5 L1534.8 585.6 L1532.3 585.6 L1529.8 585.7 L1527.2 585.8 L1524.7 585.9 L1522.2 586.0 L1519.6 586.1 L1517.1 586.2 L1514.6 586.3 L1512.0 586.5 L1509.5 586.8 L1507.0 587.1 L1504.4 587.6 L1501.9 588.1 L1499.4 588.7 L1496.8 589.3 L1494.3 590.0 L1491.8 590.7 L1489.2 591.5 L1486.7 592.4 L1484.2 593.3 L1481.6 594.4 L1479.1 595.4 L1476.5 596.6 L1474.0 597.9 L1471.5 599.4 L1468.9 601.0 L1466.4 602.7 L1463.9 604.4 L1461.3 606.3 L1458.8 608.2 L1456.3 610.1 L1453.7 612.1 L1451.2 614.2 L1448.7 616.2 L1446.1 618.3 L1443.6 620.3 L1441.1 622.2 L1438.5 624.0 L1436.0 625.7 L1433.5 627.3 L1430.9 628.8 L1428.4 630.1 L1425.9 631.0 L1423.3 631.4 L1420.8 631.6 L1418.3 631.5 L1415.7 631.0 L1413.2 630.1 L1410.7 628.9 L1408.1 627.3 L1405.6 625.4 L1403.1 623.2 L1400.5 620.8 L1398.0 618.1 Z" fill="#7bae9f" stroke="#565656" stroke-width="2" stroke-linejoin="round"/>
<path d="M1411.0 527.9 V628.1" stroke="#4e4e4e" stroke-width="2.3" stroke-dasharray="2.2 4.15" fill="none"/>
<path d="M1430.5 527.9 V628.1" stroke="#4e4e4e" stroke-width="2.3" stroke-dasharray="6.7 6.3" fill="none"/>
<path d="M1469.2 556.2 V599.8" stroke="#4e4e4e" stroke-width="2.3" stroke-dasharray="2.2 4.15" fill="none"/>
<path d="M1646.8 695.5 H1719.8" stroke="#565656" stroke-width="2.1" fill="none"/>
<path d="M1397.7 661.4 L1400.2 654.1 L1402.8 649.1 L1405.3 645.5 L1407.9 643.0 L1410.4 641.7 L1413.0 642.5 L1415.5 644.9 L1418.0 648.9 L1420.6 653.9 L1423.1 658.7 L1425.7 662.6 L1428.2 666.1 L1430.7 669.0 L1433.3 671.2 L1435.8 672.9 L1438.4 674.3 L1440.9 675.1 L1443.5 675.8 L1446.0 676.5 L1448.5 677.2 L1451.1 678.0 L1453.6 678.8 L1456.2 679.6 L1458.7 680.5 L1461.2 681.4 L1463.8 682.3 L1466.3 683.3 L1468.9 684.2 L1471.4 685.2 L1474.0 686.1 L1476.5 687.0 L1479.0 687.8 L1481.6 688.6 L1484.1 689.3 L1486.7 689.8 L1489.2 690.3 L1491.7 690.6 L1494.3 690.9 L1496.8 691.0 L1499.4 691.1 L1501.9 691.2 L1504.5 691.2 L1507.0 691.2 L1509.5 691.1 L1512.1 691.1 L1514.6 691.0 L1517.2 690.9 L1519.7 690.9 L1522.2 690.9 L1524.8 690.9 L1527.3 691.0 L1529.9 691.0 L1532.4 691.1 L1535.0 691.1 L1537.5 691.2 L1540.0 691.3 L1542.6 691.4 L1545.1 691.5 L1547.7 691.6 L1550.2 691.7 L1552.8 691.8 L1555.3 691.9 L1557.8 692.0 L1560.4 692.1 L1562.9 692.2 L1565.5 692.3 L1568.0 692.4 L1570.5 692.5 L1573.1 692.5 L1575.6 692.6 L1578.2 692.6 L1580.7 692.7 L1583.3 692.8 L1585.8 692.8 L1588.3 692.9 L1590.9 692.9 L1593.4 693.0 L1596.0 693.0 L1598.5 693.1 L1601.0 693.1 L1603.6 693.2 L1606.1 693.2 L1608.7 693.2 L1611.2 693.3 L1613.8 693.3 L1616.3 693.3 L1618.8 693.3 L1621.4 693.4 L1623.9 693.4 L1626.5 693.4 L1629.0 693.5 L1631.5 693.5 L1634.1 693.6 L1636.6 693.8 L1639.2 694.1 L1641.7 694.4 L1644.3 694.7 L1646.8 695.1 L1646.8 695.9 L1644.3 696.3 L1641.7 696.6 L1639.2 696.9 L1636.6 697.2 L1634.1 697.4 L1631.5 697.5 L1629.0 697.5 L1626.5 697.6 L1623.9 697.6 L1621.4 697.6 L1618.8 697.7 L1616.3 697.7 L1613.8 697.7 L1611.2 697.7 L1608.7 697.8 L1606.1 697.8 L1603.6 697.8 L1601.0 697.9 L1598.5 697.9 L1596.0 698.0 L1593.4 698.0 L1590.9 698.1 L1588.3 698.1 L1585.8 698.2 L1583.3 698.2 L1580.7 698.3 L1578.2 698.4 L1575.6 698.4 L1573.1 698.5 L1570.5 698.5 L1568.0 698.6 L1565.5 698.7 L1562.9 698.8 L1560.4 698.9 L1557.8 699.0 L1555.3 699.1 L1552.8 699.2 L1550.2 699.3 L1547.7 699.4 L1545.1 699.5 L1542.6 699.6 L1540.0 699.7 L1537.5 699.8 L1535.0 699.9 L1532.4 699.9 L1529.9 700.0 L1527.3 700.0 L1524.8 700.1 L1522.2 700.1 L1519.7 700.1 L1517.2 700.1 L1514.6 700.0 L1512.1 699.9 L1509.5 699.9 L1507.0 699.8 L1504.5 699.8 L1501.9 699.8 L1499.4 699.9 L1496.8 700.0 L1494.3 700.1 L1491.7 700.4 L1489.2 700.7 L1486.7 701.2 L1484.1 701.7 L1481.6 702.4 L1479.0 703.2 L1476.5 704.0 L1474.0 704.9 L1471.4 705.8 L1468.9 706.8 L1466.3 707.7 L1463.8 708.7 L1461.2 709.6 L1458.7 710.5 L1456.2 711.4 L1453.6 712.2 L1451.1 713.0 L1448.5 713.8 L1446.0 714.5 L1443.5 715.2 L1440.9 715.9 L1438.4 716.7 L1435.8 718.1 L1433.3 719.8 L1430.7 722.0 L1428.2 724.9 L1425.7 728.4 L1423.1 732.3 L1420.6 737.1 L1418.0 742.1 L1415.5 746.1 L1413.0 748.5 L1410.4 749.3 L1407.9 748.0 L1405.3 745.5 L1402.8 741.9 L1400.2 736.9 L1397.7 729.6 Z" fill="#7bae9f" stroke="#565656" stroke-width="2" stroke-linejoin="round"/>
<path d="M1407.5 644.4 V746.6" stroke="#4e4e4e" stroke-width="2.3" stroke-dasharray="2.2 4.15" fill="none"/>
<path d="M1424.3 661.5 V729.5" stroke="#4e4e4e" stroke-width="2.3" stroke-dasharray="6.7 6.3" fill="none"/>
<path d="M1458.8 681.5 V709.5" stroke="#4e4e4e" stroke-width="2.3" stroke-dasharray="2.2 4.15" fill="none"/>
<g stroke="#0a0a0a" stroke-width="2.4" fill="none" stroke-linecap="round" stroke-linejoin="round">
<path d="M1391.0 68.5 V753.2 H2460.4"/>
<path d="M1391.0 753.2 V763.7"/>
<path d="M1604.9 753.2 V763.7"/>
<path d="M1818.8 753.2 V763.7"/>
<path d="M2032.6 753.2 V763.7"/>
<path d="M2246.5 753.2 V763.7"/>
<path d="M2460.4 753.2 V763.7"/>
</g>
<text x="1391.00" y="809.2" font-size="37.1" text-anchor="middle">0</text>
<text x="1604.88" y="809.2" font-size="37.1" text-anchor="middle">0,05</text>
<text x="1818.76" y="809.2" font-size="37.1" text-anchor="middle">0,1</text>
<text x="2032.64" y="809.2" font-size="37.1" text-anchor="middle">0,15</text>
<text x="2246.52" y="809.2" font-size="37.1" text-anchor="middle">0,2</text>
<text x="2460.40" y="809.2" font-size="37.1" text-anchor="middle">0,25</text>
<text x="1250.33" y="114.80" font-size="34.25" xml:space="preserve">all_inter</text>
<text x="1151.47" y="232.40" font-size="34.17" xml:space="preserve">BIN_Dmin_NN</text>
<text x="1138.88" y="352.10" font-size="34.23" xml:space="preserve">inter_Dmin_NN</text>
<text x="1205.57" y="467.50" font-size="34.10" xml:space="preserve">BIN_Dmax</text>
<text x="1195.98" y="587.10" font-size="34.11" xml:space="preserve">intra_Dmax</text>
<text x="1238.24" y="706.70" font-size="36.56" xml:space="preserve">all_intra</text>
<text x="1803.12" y="886.80" font-size="39.71" xml:space="preserve">Pairwise distance</text>
<text transform="translate(1112.00 499.06) rotate(-90)" font-size="39.25" xml:space="preserve">Category</text>
<rect x="2054.7" y="640.3" width="26.3" height="26.3" fill="#7bae9f" stroke="#0a0a0a" stroke-width="2.1" stroke-linejoin="round"/>
<rect x="2054.7" y="684" width="26.3" height="26.1" fill="#d4a0c0" stroke="#0a0a0a" stroke-width="2.1" stroke-linejoin="round"/>
<text x="2100.22" y="661.40" font-size="25.95" xml:space="preserve">species</text>
<text x="2099.87" y="702.30" font-size="26.58" xml:space="preserve">BIN</text>
</g>
</svg></body></html>
